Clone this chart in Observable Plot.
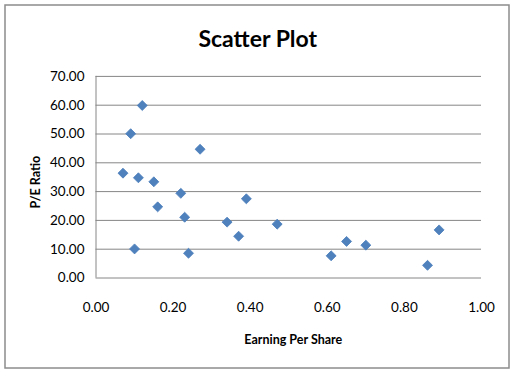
<!DOCTYPE html>
<html>
<head>
<meta charset="utf-8">
<script src="https://cdn.jsdelivr.net/npm/d3@7"></script>
<script src="https://cdn.jsdelivr.net/npm/@observablehq/plot@0.6"></script>
<style>
  html, body { margin: 0; padding: 0; background: #fff; }
</style>
</head>
<body>
<div id="chart"></div>
<script>
const title = "Scatter Plot";
const xLabel = "Earning Per Share";
const yLabel = "P/E Ratio";
const eps = [0.12, 0.09, 0.27, 0.07, 0.11, 0.15, 0.22, 0.39, 0.16, 0.23, 0.34, 0.47, 0.37, 0.10, 0.24, 0.61, 0.65, 0.70, 0.86, 0.89];
const peRatio = [59.9, 50.1, 44.7, 36.4, 34.8, 33.4, 29.4, 27.5, 24.7, 21.1, 19.4, 18.7, 14.5, 10.1, 8.6, 7.7, 12.7, 11.4, 4.4, 16.7];
const xTicks = [0, 0.2, 0.4, 0.6, 0.8, 1.0];
const yTicks = [0, 10, 20, 30, 40, 50, 60, 70];

const data = eps.map((e, i) => ({eps: e, pe: peRatio[i]}));
const gray = "#868686";

const chart = Plot.plot({
  width: 513,
  height: 382,
  marginLeft: 95.5,
  marginRight: 32,
  marginTop: 75.9,
  marginBottom: 104.5,
  style: {fontFamily: "Lato, 'Open Sans', sans-serif", fontSize: "13.5px", color: "#000", background: "#fff"},
  x: {domain: [0, 1]},
  y: {domain: [0, 70]},
  marks: [
    Plot.gridY(yTicks, {stroke: gray, strokeOpacity: 1, strokeWidth: 1}),
    Plot.ruleX([0], {stroke: gray, strokeWidth: 1}),
    Plot.axisY(yTicks, {tickFormat: d => d.toFixed(2), tickSize: 0, tickPadding: 11.5, label: null}),
    Plot.axisX(xTicks, {tickFormat: d => d.toFixed(2), tickSize: 0, tickPadding: 24, label: null}),
    Plot.dot(data, {x: "eps", y: "pe", symbol: "diamond2", r: 4.5, fill: "#4F81BD", stroke: "#4A7EBB", strokeWidth: 0.8}),
    Plot.text([title], {frameAnchor: "top", lineAnchor: "middle", textAnchor: "middle", dx: -31, dy: -37, fontSize: 23, fontWeight: "bold"}),
    Plot.text([yLabel], {frameAnchor: "left", lineAnchor: "middle", textAnchor: "middle", dx: -60.5, dy: 5, rotate: -90, fontSize: 12.5, fontWeight: "bold"}),
    Plot.text([xLabel], {frameAnchor: "bottom", lineAnchor: "middle", textAnchor: "middle", dx: 4.5, dy: 62, fontSize: 12.5, fontWeight: "bold"})
  ]
});

d3.select(chart).insert("rect", ":first-child")
  .attr("x", 5).attr("y", 5).attr("width", 504).attr("height", 363)
  .attr("fill", "#fff").attr("stroke", "#8c8c8c").attr("stroke-width", 1.5);

document.getElementById("chart").append(chart);
</script>
</body>
</html>
